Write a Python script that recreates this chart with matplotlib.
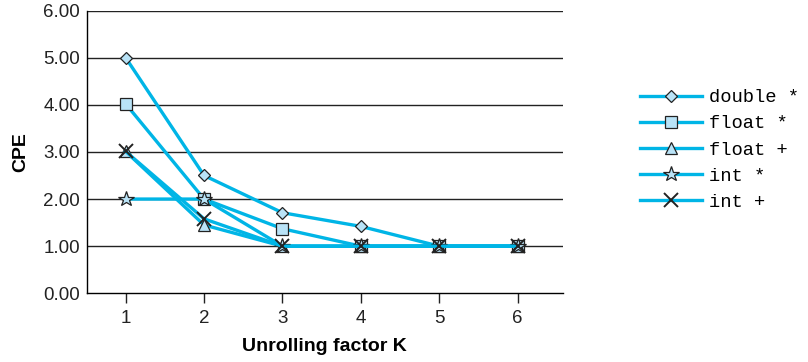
import matplotlib
matplotlib.use("Agg")
import matplotlib.pyplot as plt

plt.rcParams["font.family"] = ["Liberation Sans", "DejaVu Sans"]

K = [1, 2, 3, 4, 5, 6]
double_mul = [5.00, 2.50, 1.71, 1.42, 1.00, 1.00]
float_mul = [4.02, 2.00, 1.37, 1.00, 1.00, 1.00]
float_add = [3.01, 1.45, 1.00, 1.00, 1.00, 1.00]
int_mul = [2.00, 2.00, 1.00, 1.00, 1.00, 1.00]
int_add = [3.01, 1.58, 1.00, 1.00, 1.00, 1.00]
y_ticks = [0, 1, 2, 3, 4, 5, 6]

series = [
    ("double *", double_mul, "D", 6.5),
    ("float *", float_mul, "s", 9.3),
    ("float +", float_add, "^", 9.0),
    ("int *", int_mul, "*", 11.5),
    ("int +", int_add, "x", 9.5),
]

LINE = "#00b5e6"
FACE = "#b9e3f7"
EDGE = "#222222"

fig = plt.figure(figsize=(8.08, 3.62), dpi=100)
ax = fig.add_axes([0.1073, 0.1898, 0.589, 0.781])

for y in y_ticks[1:]:
    ax.axhline(y, color="#222222", lw=1.0, zorder=1)

for name, vals, mk, ms in series:
    if mk == "x":
        ax.plot(K, vals, color=LINE, lw=2.4, marker=mk, ms=ms, mec=EDGE,
                mew=1.4, label=name, zorder=3)
    else:
        ax.plot(K, vals, color=LINE, lw=2.4, marker=mk, ms=ms, mfc=FACE,
                mec=EDGE, mew=0.9, label=name, zorder=3)

ax.set_xlim(0.503, 6.574)
ax.set_ylim(0, 6)
ax.set_xticks(K)
ax.set_yticks(y_ticks)
ax.set_yticklabels([f"{v:.2f}" for v in y_ticks])
for s in ["top", "right"]:
    ax.spines[s].set_visible(False)
ax.spines["left"].set_linewidth(1.0)
ax.spines["bottom"].set_linewidth(1.0)
ax.tick_params(axis="x", labelsize=13.5, length=7, width=1.0, pad=5,
               colors="#222222")
ax.tick_params(axis="y", labelsize=13.5, length=0, pad=5, colors="#222222")
ax.set_xlabel("Unrolling factor K", fontsize=14, fontweight="bold", labelpad=8)
ax.set_ylabel("CPE", fontsize=14, fontweight="bold", labelpad=10)

leg = fig.legend(*ax.get_legend_handles_labels(), loc="center left",
                 bbox_to_anchor=(640 / 808, 1 - 150 / 362),
                 bbox_transform=fig.transFigure, frameon=False,
                 borderpad=0, borderaxespad=0,
                 prop={"family": "Liberation Mono", "size": 13.5},
                 handlelength=3.3, handletextpad=0.37, labelspacing=0.48)

fig.savefig("out.png", dpi=100)
